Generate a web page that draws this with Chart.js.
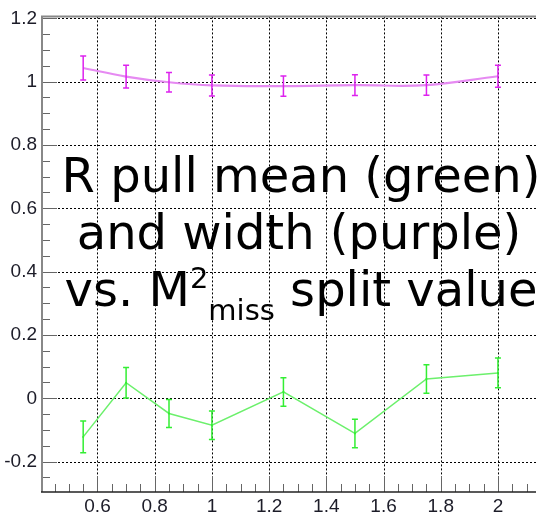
<!DOCTYPE html>
<html>
<head>
<meta charset="utf-8">
<script src="https://cdn.jsdelivr.net/npm/chart.js@4/dist/chart.umd.min.js"></script>
<style>
  html, body { margin: 0; padding: 0; background: #fff; }
</style>
</head>
<body>
<canvas id="pullChart" width="540" height="515"></canvas>
<script>
// M2 miss split values
var splitValues = [0.55, 0.7, 0.85, 1.0, 1.25, 1.5, 1.75, 2.0];
// R pull width (purple) with errors
var widthValues = [1.043, 1.016, 0.998, 0.988, 0.986, 0.989, 0.989, 1.017];
var widthErrors = [0.038, 0.036, 0.031, 0.033, 0.032, 0.033, 0.032, 0.035];
// R pull mean (green) with errors
var meanValues = [-0.122, 0.049, -0.048, -0.085, 0.020, -0.111, 0.061, 0.080];
var meanErrors = [0.050, 0.048, 0.044, 0.045, 0.045, 0.045, 0.045, 0.047];

var xMajor = [0.6, 0.8, 1.0, 1.2, 1.4, 1.6, 1.8, 2.0];
var yMajor = [-0.2, 0, 0.2, 0.4, 0.6, 0.8, 1.0, 1.2];

var purple = '#dd22ee';
var green = '#33ee33';

function isMajor(v) {
    var q = v / 0.2;
    return Math.abs(q - Math.round(q)) < 1e-6;
}

function majorLabel(v) {
    if (!isMajor(v)) return '';
    return String(Math.round(v * 10) / 10);
}

function points(values) {
    var out = [];
    for (var i = 0; i < splitValues.length; i++) {
        out.push({ x: splitValues[i], y: values[i] });
    }
    return out;
}

// frame, dotted grid and inward tick marks
var framePlugin = {
    id: 'frame',
    beforeDatasetsDraw: function(chart) {
        var ctx = chart.ctx, a = chart.chartArea;
        var xs = chart.scales.x, ys = chart.scales.y;
        ctx.save();

        ctx.strokeStyle = '#000';
        ctx.lineWidth = 1;
        ctx.setLineDash([2, 2]);
        xMajor.forEach(function(v) {
            var px = Math.round(xs.getPixelForValue(v)) + 0.5;
            ctx.beginPath();
            ctx.moveTo(px, a.top);
            ctx.lineTo(px, a.bottom);
            ctx.stroke();
        });
        yMajor.forEach(function(v) {
            var py = Math.round(ys.getPixelForValue(v)) + 0.5;
            ctx.beginPath();
            ctx.moveTo(a.left, py);
            ctx.lineTo(a.right, py);
            ctx.stroke();
        });
        ctx.setLineDash([]);

        ctx.strokeStyle = '#666';
        ys.ticks.forEach(function(t) {
            var py = Math.round(ys.getPixelForValue(t.value)) + 0.5;
            var len = isMajor(t.value) ? 15 : 8;
            ctx.beginPath();
            ctx.moveTo(a.left, py);
            ctx.lineTo(a.left + len, py);
            ctx.stroke();
        });
        xs.ticks.forEach(function(t) {
            var px = Math.round(xs.getPixelForValue(t.value)) + 0.5;
            var len = isMajor(t.value) ? 16 : 8;
            ctx.beginPath();
            ctx.moveTo(px, a.bottom);
            ctx.lineTo(px, a.bottom - len);
            ctx.stroke();
        });

        ctx.strokeStyle = '#888';
        ctx.lineWidth = 2;
        ctx.beginPath();
        ctx.moveTo(a.left, a.bottom);
        ctx.lineTo(a.left, a.top);
        ctx.lineTo(a.right, a.top);
        ctx.stroke();

        ctx.strokeStyle = '#222';
        ctx.lineWidth = 1.5;
        ctx.beginPath();
        ctx.moveTo(a.left - 1, a.bottom);
        ctx.lineTo(a.right, a.bottom);
        ctx.stroke();
        ctx.restore();
    }
};

// vertical error bars with small caps
var errorBarPlugin = {
    id: 'errorBars',
    afterDatasetsDraw: function(chart) {
        var ctx = chart.ctx;
        var xs = chart.scales.x, ys = chart.scales.y;
        var sets = [[widthValues, widthErrors, purple], [meanValues, meanErrors, green]];
        ctx.save();
        ctx.lineWidth = 1.5;
        sets.forEach(function(s) {
            ctx.strokeStyle = s[2];
            for (var i = 0; i < splitValues.length; i++) {
                var px = xs.getPixelForValue(splitValues[i]);
                var top = ys.getPixelForValue(s[0][i] + s[1][i]);
                var bot = ys.getPixelForValue(s[0][i] - s[1][i]);
                ctx.beginPath();
                ctx.moveTo(px, top);
                ctx.lineTo(px, bot);
                ctx.moveTo(px - 3, top);
                ctx.lineTo(px + 3, top);
                ctx.moveTo(px - 3, bot);
                ctx.lineTo(px + 3, bot);
                ctx.stroke();
            }
        });
        ctx.restore();
    }
};

// big title text over the plot
var titlePlugin = {
    id: 'bigTitle',
    afterDraw: function(chart) {
        var ctx = chart.ctx;
        var big = '48px "DejaVu Sans"';
        var small = '29px "DejaVu Sans"';
        var cx = 301;
        ctx.save();
        ctx.fillStyle = '#000';
        ctx.textBaseline = 'alphabetic';
        ctx.textAlign = 'center';
        ctx.font = big;
        ctx.fillText('R pull mean (green)', cx, 192);
        ctx.fillText('and width (purple)', cx - 2, 249);

        var p1 = 'vs. M', p2 = '2', p3 = 'miss', p4 = ' split value';
        ctx.font = big;
        var w1 = ctx.measureText(p1).width, w4 = ctx.measureText(p4).width;
        ctx.font = small;
        var w2 = ctx.measureText(p2).width, w3 = ctx.measureText(p3).width;
        var x = cx - (w1 + w2 + w3 + w4) / 2;
        ctx.textAlign = 'left';
        ctx.font = big;
        ctx.fillText(p1, x, 306);
        x += w1;
        ctx.font = small;
        ctx.fillText(p2, x, 288);
        x += w2;
        ctx.fillText(p3, x, 320);
        x += w3;
        ctx.font = big;
        ctx.fillText(p4, x, 306);
        ctx.restore();
    }
};

var tickFont = { family: '"Liberation Sans", Arial, sans-serif', size: 19 };

var ctx = document.getElementById('pullChart').getContext('2d');
var pullChart = new Chart(ctx, {
    type: 'line',
    data: {
        datasets: [{
            label: 'width',
            data: points(widthValues),
            borderColor: '#e68af2',
            borderWidth: 2.2,
            tension: 0.4,
            pointRadius: 0,
            fill: false
        }, {
            label: 'mean',
            data: points(meanValues),
            borderColor: '#6cf06c',
            borderWidth: 1.5,
            tension: 0,
            pointRadius: 1,
            pointBackgroundColor: green,
            pointBorderWidth: 0,
            fill: false
        }]
    },
    options: {
        responsive: false,
        animation: false,
        layout: { padding: { top: 15, right: 0, bottom: 0, left: 0 } },
        plugins: {
            legend: { display: false },
            tooltip: { enabled: false }
        },
        scales: {
            x: {
                type: 'linear',
                min: 0.406,
                max: 2.133,
                grid: { display: false, drawTicks: false },
                border: { display: false },
                ticks: {
                    stepSize: 0.05,
                    autoSkip: false,
                    includeBounds: false,
                    maxRotation: 0,
                    padding: 3,
                    color: '#1c1c28',
                    font: tickFont,
                    callback: majorLabel
                },
                afterFit: function(scale) { scale.height = 23; }
            },
            y: {
                type: 'linear',
                min: -0.296,
                max: 1.206,
                grid: { display: false, drawTicks: false },
                border: { display: false },
                ticks: {
                    stepSize: 0.05,
                    autoSkip: false,
                    includeBounds: false,
                    padding: 5,
                    color: '#1c1c28',
                    font: tickFont,
                    callback: majorLabel
                },
                afterFit: function(scale) { scale.width = 42; }
            }
        }
    },
    plugins: [framePlugin, errorBarPlugin, titlePlugin]
});
</script>
</body>
</html>
